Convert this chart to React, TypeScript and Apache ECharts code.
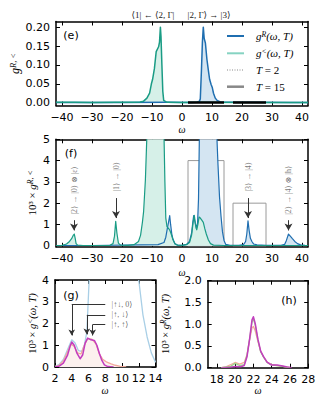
import React, { useEffect, useRef } from "react";
import * as echarts from "echarts";

type P = [number, number];

// ---------- tick values ----------
const eTicksX = [-40, -30, -20, -10, 0, 10, 20, 30, 40];
const eTicksY = [0, 0.05, 0.1, 0.15, 0.2];
const fTicksY = [0, 1, 2, 3, 4, 5];
const gTicksX = [2, 4, 6, 8, 10, 12, 14];
const gTicksY = [0, 1, 2, 3, 4];
const hTicksX = [18, 20, 22, 24, 26, 28];
const hTicksY = [0, 0.5, 1, 1.5, 2];

// ---------- panel (e) ----------
const eLesser: P[] = [
  [-42, 0.0008], [-36, 0.001], [-30, 0.0006], [-22, 0.0012], [-16, 0.001], [-14, 0.002],
  [-12.8, 0.004], [-11.7, 0.012], [-10.8, 0.025], [-10.2, 0.05], [-9.8, 0.062], [-9.2, 0.09],
  [-8.6, 0.135], [-7.8, 0.148], [-7.5, 0.16], [-7.2, 0.2], [-7.0, 0.175], [-6.7, 0.1],
  [-6.4, 0.03], [-6.1, 0.006], [-5, 0.001], [0, 0.0005], [6, 0.001], [20, 0.0005], [42, 0.0004],
];
const eRetarded: P[] = [
  [-42, 0.0003], [-20, 0.0004], [-5, 0.0008], [3, 0.0006], [5, 0.001], [5.8, 0.004],
  [6.1, 0.01], [6.5, 0.09], [6.8, 0.16], [7.1, 0.2], [7.4, 0.17], [7.8, 0.158], [8.3, 0.115],
  [8.8, 0.085], [9.2, 0.062], [9.7, 0.048], [10.1, 0.04], [10.5, 0.025], [11.1, 0.012],
  [11.7, 0.006], [12.8, 0.002], [15, 0.0008], [22, 0.001], [36, 0.0005], [42, 0.0003],
];
const eWindows: P[] = [[2, 14], [17, 28]];

// ---------- panel (f) (x 10^3) ----------
const fLesser: P[] = [
  [-42, 0.01], [-40, 0.02], [-38.5, 0.08], [-37.5, 0.2], [-36.8, 0.33], [-36.2, 0.5],
  [-35.9, 0.55], [-35.6, 0.35], [-35.3, 0.1], [-34.8, 0.03], [-33, 0.01], [-28, 0.01],
  [-24, 0.02], [-23, 0.1], [-22.5, 0.45], [-22.1, 1.15], [-21.7, 0.6], [-21.2, 0.12],
  [-20.5, 0.03], [-18, 0.02], [-16, 0.05], [-14.5, 0.2], [-13.8, 0.5], [-13.2, 1.1],
  [-12.8, 1.6], [-12.2, 3.1], [-11.7, 5.5], [-11, 12], [-10, 50], [-8, 140], [-7.2, 200],
  [-6.4, 30], [-6, 8], [-5.7, 3], [-5.4, 1.3], [-5, 0.9], [-4.5, 0.82], [-4.1, 0.74],
  [-3.6, 0.55], [-3, 0.28], [-2.3, 0.08], [-1.5, 0.03], [0, 0.02], [1.5, 0.05], [2.5, 0.15],
  [3.2, 0.5], [3.7, 1.1], [4.1, 1.43], [4.5, 1.0], [4.9, 0.75], [5.3, 1.0], [5.7, 1.35],
  [6.1, 1.3], [6.6, 1.2], [7.1, 1.1], [7.6, 0.8], [8.1, 0.55], [8.8, 0.27], [9.5, 0.1],
  [10.5, 0.03], [14, 0.01], [20, 0.01], [30, 0.01], [42, 0.01],
];
const fRetarded: P[] = [
  [-42, 0.01], [-30, 0.01], [-8, 0.05], [-6, 0.15], [-5.4, 0.4], [-4.9, 0.8], [-4.5, 1.1],
  [-4.1, 1.42], [-3.8, 1.0], [-3.4, 0.55], [-3, 0.3], [-2.4, 0.1], [-1.5, 0.03], [0, 0.02],
  [1.5, 0.06], [2.5, 0.2], [3.2, 0.6], [3.6, 1.1], [3.9, 1.42], [4.3, 1.15], [4.8, 0.8],
  [5.2, 1.1], [5.5, 2.2], [5.8, 5.5], [6.2, 30], [7.1, 200], [8, 150], [10, 40], [11, 15],
  [11.6, 6], [12, 3.8], [12.5, 2.3], [13, 1.4], [13.5, 0.65], [14, 0.25], [14.6, 0.06],
  [16, 0.02], [19, 0.02], [20.5, 0.05], [21.2, 0.2], [21.6, 0.55], [22, 1.17], [22.4, 0.7],
  [22.8, 0.35], [23.3, 0.2], [23.9, 0.08], [25, 0.04], [28, 0.02], [33, 0.02], [34.2, 0.06],
  [34.8, 0.25], [35.5, 0.55], [36.1, 0.45], [36.8, 0.33], [37.6, 0.2], [38.5, 0.1],
  [39.5, 0.04], [41, 0.02], [42, 0.01],
];
const fBoxX: P[] = [[2, 14], [17, 28]];
const fBoxTop = [4, 2];
const fPeakLabels = ["|2⟩ → |0⟩ ⊗ |ε⟩", "|1⟩ → |0⟩", "|3⟩ → |4⟩", "|2⟩ → |4⟩ ⊗ |h⟩"];
const fPeakX = [-36, -22, 22, 35.5];

// ---------- panel (g) (x 10^3) ----------
const gRetarded: P[] = [
  [2, 0.03], [2.5, 0.12], [3, 0.35], [3.5, 0.8], [4, 1.25], [4.4, 1.1], [4.8, 0.75],
  [5.2, 0.72], [5.5, 1.0], [5.8, 1.6], [6.1, 4.2], [6.5, 10], [7, 30], [11, 15], [11.6, 5.5],
  [12, 4.0], [12.5, 2.4], [13, 1.38], [13.5, 0.65], [14, 0.22],
];
const gLesserA: P[] = [
  [2, 0.0], [2.5, 0.04], [3, 0.18], [3.5, 0.55], [3.8, 0.95], [4, 1.15], [4.3, 1.0],
  [4.6, 0.65], [5, 0.38], [5.3, 0.55], [5.6, 1.1], [5.9, 1.33], [6.3, 1.25], [6.7, 1.22],
  [7, 1.0], [7.3, 0.62], [7.6, 0.3], [7.9, 0.1], [8.3, 0.02], [9, 0],
];
const gLesserB: P[] = [
  [2, 0.02], [2.5, 0.08], [3, 0.28], [3.5, 0.7], [3.9, 1.05], [4.3, 0.95], [4.7, 0.65],
  [5.1, 0.6], [5.5, 1.0], [5.9, 1.3], [6.4, 1.28], [6.9, 1.05], [7.3, 0.6], [7.7, 0.35],
  [8.2, 0.22], [8.7, 0.14], [9.2, 0.08], [9.8, 0.03], [10.5, 0.0],
];
const gStateLabels = ["|↑↓, 0⟩", "|↑, ↓⟩", "|↑, ↑⟩"];
const gStateX = [4.0, 5.8, 6.5];

// ---------- panel (h) (x 10^3) ----------
const hRetardedA: P[] = [
  [18.5, 0], [19.5, 0.01], [20, 0.03], [20.6, 0.02], [21, 0.05], [21.3, 0.25], [21.6, 0.68],
  [21.85, 1.1], [22, 1.17], [22.2, 1.02], [22.5, 0.65], [22.8, 0.38], [23.1, 0.26],
  [23.5, 0.13], [24, 0.06], [24.6, 0.06], [25.2, 0.04], [25.7, 0.015], [26.2, 0],
];
const hRetardedB: P[] = [
  [18.5, 0], [19.5, 0.03], [20, 0.1], [20.5, 0.05], [21, 0.07], [21.3, 0.28], [21.6, 0.68],
  [21.85, 1.05], [22, 1.12], [22.2, 0.98], [22.5, 0.63], [22.8, 0.36], [23.1, 0.25],
  [23.5, 0.12], [24, 0.06], [24.6, 0.05], [25.2, 0.03], [26, 0],
];
const hRetardedC: P[] = [
  [18.5, 0], [19, 0.02], [19.6, 0.08], [20, 0.12], [20.5, 0.08], [21, 0.12], [21.3, 0.3],
  [21.6, 0.65], [21.85, 0.92], [22, 0.95], [22.2, 0.85], [22.5, 0.6], [22.8, 0.38],
  [23.1, 0.25], [23.5, 0.13], [24, 0.07], [24.6, 0.05], [25.2, 0.03], [26, 0],
];

// ---------- styling ----------
const SANS = "'DejaVu Sans', sans-serif";
const SERIF = "'Liberation Serif', 'DejaVu Serif', serif";
const BLUE = "#1f6eb0";
const TEAL = "#1a9c85";
const BLUE_FILL = "#d4e5f2";
const TEAL_FILL = "#d6f0e8";
const MAGENTA = "#c23dbf";
const PINK = "#f3aa9c";
const PINK_FILL = "#fcf1ee";
const LBLUE = "#a9cfe6";
const LGREEN = "#9bd38b";

const minus = (v: number) => (v < 0 ? "\u2212" + Math.abs(v) : String(v));

const lineStyleAxis = { color: "#000", width: 1.5 };

function xPair(grid: number, min: number, max: number, ticks: number[], fmt: (v: number) => string) {
  const base = {
    type: "value" as const,
    gridIndex: grid,
    min,
    max,
    splitLine: { show: false },
    axisLine: { show: true, onZero: false, lineStyle: lineStyleAxis },
    axisTick: { show: true, inside: true, length: 4, customValues: ticks, lineStyle: { color: "#000", width: 1 } },
  };
  return [
    {
      ...base,
      position: "bottom",
      axisLabel: { show: true, customValues: ticks, formatter: fmt, color: "#000", fontSize: 11, fontFamily: SANS, margin: 6 },
    },
    { ...base, position: "top", axisLabel: { show: false } },
  ];
}
function yPair(grid: number, min: number, max: number, ticks: number[], fmt: (v: number) => string) {
  const base = {
    type: "value" as const,
    gridIndex: grid,
    min,
    max,
    splitLine: { show: false },
    axisLine: { show: true, onZero: false, lineStyle: lineStyleAxis },
    axisTick: { show: true, inside: true, length: 4, customValues: ticks, lineStyle: { color: "#000", width: 1 } },
  };
  return [
    {
      ...base,
      position: "left",
      axisLabel: { show: true, customValues: ticks, formatter: fmt, color: "#000", fontSize: 11, fontFamily: SANS, margin: 6 },
    },
    { ...base, position: "right", axisLabel: { show: false } },
  ];
}

// curve outline drawn as an open polyline through the axes' own coordinate mapping
function line(data: P[], grid: number, color: string, width: number, z = 2, yTop = Infinity) {
  return {
    type: "custom",
    xAxisIndex: grid * 2,
    yAxisIndex: grid * 2,
    data: [data[0]],
    clip: true,
    z,
    silent: true,
    renderItem: (_params: any, api: any) => {
      const pts = data.map(([x, y]) => api.coord([x, Math.min(y, yTop)]));
      return {
        type: "polyline",
        shape: { points: pts },
        style: { fill: "none", stroke: color, lineWidth: width, lineJoin: "round" },
        silent: true,
      };
    },
  } as any;
}
// fill under a curve, drawn as one polygon through the axes' own coordinate mapping
function area(data: P[], grid: number, fill: string, yTop: number) {
  return {
    type: "custom",
    xAxisIndex: grid * 2,
    yAxisIndex: grid * 2,
    data: [data[0]],
    clip: true,
    z: 1,
    silent: true,
    renderItem: (_params: any, api: any) => {
      const pts = data.map(([x, y]) => api.coord([x, Math.min(y, yTop)]));
      const a = api.coord([data[0][0], 0]);
      const b = api.coord([data[data.length - 1][0], 0]);
      return {
        type: "polygon",
        shape: { points: [a, ...pts, b] },
        style: { fill, stroke: "none", lineWidth: 0 },
        silent: true,
      };
    },
  } as any;
}

const richMath = (size: number) => ({
  n: { fontFamily: SERIF, fontSize: size, lineHeight: size, color: "#000" },
  i: { fontFamily: SERIF, fontStyle: "italic", fontSize: size, lineHeight: size, color: "#000" },
  s: { fontFamily: SERIF, fontStyle: "italic", fontSize: size * 0.7, lineHeight: size * 0.6, verticalAlign: "top", color: "#000" },
});

function mathText(x: number, y: number, text: string, size: number, rotate = false, align = "center") {
  return {
    type: "text",
    x,
    y,
    rotation: rotate ? Math.PI / 2 : 0,
    silent: true,
    style: {
      text,
      rich: richMath(size),
      fontSize: size,
      fontFamily: SERIF,
      align,
      textAlign: align,
      verticalAlign: "middle",
      textVerticalAlign: "middle",
      fill: "#000",
    },
  };
}
function plainText(x: number, y: number, text: string, size: number, font: string, color = "#000", align = "center", italic = false) {
  return {
    type: "text",
    x,
    y,
    silent: true,
    style: {
      text, fontSize: size, fontFamily: font, fill: color, align, textAlign: align,
      verticalAlign: "middle", textVerticalAlign: "middle", lineHeight: size,
      fontStyle: italic ? "italic" : "normal",
    },
  };
}

export default function App() {
  const ref = useRef<HTMLDivElement>(null);
  useEffect(() => {
    document.body.style.margin = "0";
    if (!ref.current) return;
    const chart = echarts.init(ref.current, undefined, { renderer: "svg" });

    const fArrowTop = [1.2, 2.24, 2.24, 1.2];
    const fArrowTip = [0.72, 1.3, 1.3, 0.72];
    const fLabelY = [2.6, 3.24, 3.24, 2.6];
    const gLineY = [2.88, 2.4, 1.95];
    const gTipY = [1.45, 1.5, 1.45];
    const gLabelX = 8.7;
    const gLineX0 = 8.0;

    const option: any = {
      animation: false,
      backgroundColor: "#fff",
      grid: [
        { left: 56, top: 21.5, width: 252, height: 84 },
        { left: 56, top: 139.3, width: 252, height: 107.5 },
        { left: 55, top: 280, width: 100.5, height: 87 },
        { left: 207.7, top: 280.7, width: 100.5, height: 87 },
      ],
      xAxis: [
        ...xPair(0, -42, 42, eTicksX, minus),
        ...xPair(1, -42, 42, eTicksX, minus),
        ...xPair(2, 2, 14, gTicksX, (v) => String(v)),
        ...xPair(3, 17, 28, hTicksX, (v) => String(v)),
      ],
      yAxis: [
        ...yPair(0, -0.0075, 0.215, eTicksY, (v) => v.toFixed(2)),
        ...yPair(1, -0.05, 5, fTicksY, (v) => String(v)),
        ...yPair(2, 0, 4, gTicksY, (v) => String(v)),
        ...yPair(3, 0, 2, hTicksY, (v) => v.toFixed(1)),
      ],
      series: [
        // (e)
        area(eRetarded, 0, BLUE_FILL, 0.215),
        area(eLesser, 0, TEAL_FILL, 0.215),
        line(eRetarded, 0, BLUE, 1.5, 2),
        line(eLesser, 0, TEAL, 1.5, 3),
        {
          type: "line",
          xAxisIndex: 0,
          yAxisIndex: 0,
          data: [],
          silent: true,
          z: 6,
          markLine: {
            silent: true,
            symbol: ["none", "none"],
            label: { show: false },
            lineStyle: { color: "#000", width: 2.5, type: "solid" },
            data: eWindows.map((w) => [{ coord: [w[0], 0] }, { coord: [w[1], 0] }]),
          },
        },
        // (f)
        area(fRetarded, 1, BLUE_FILL, 5.2),
        area(fLesser, 1, TEAL_FILL, 5.2),
        line(fRetarded, 1, BLUE, 1.2, 2, 5.2),
        line(fLesser, 1, TEAL, 1.2, 3, 5.2),
        {
          type: "line",
          xAxisIndex: 2,
          yAxisIndex: 2,
          data: [],
          silent: true,
          z: 6,
          markArea: {
            silent: true,
            itemStyle: { color: "rgba(0,0,0,0)", borderColor: "#9a9a9a", borderWidth: 1 },
            label: { show: false },
            data: fBoxX.map((b, k) => [{ coord: [b[0], 0] }, { coord: [b[1], fBoxTop[k]] }]),
          },
          markLine: {
            silent: true,
            symbol: ["none", "arrow"],
            symbolSize: [6, 7],
            label: { show: false },
            lineStyle: { color: "#333", width: 1, type: "solid" },
            data: fPeakX.map((x, k) => [{ coord: [x, fArrowTop[k]] }, { coord: [x, fArrowTip[k]] }]),
          },
        },
        {
          type: "scatter",
          xAxisIndex: 2,
          yAxisIndex: 2,
          symbolSize: 1,
          itemStyle: { color: "rgba(0,0,0,0)" },
          silent: true,
          z: 7,
          data: fPeakX.map((x, k) => ({ value: [x, fLabelY[k]], name: fPeakLabels[k] })),
          label: { show: true, position: "inside", rotate: 90, formatter: "{b}", fontSize: 8, fontFamily: SERIF, color: "#555" },
        },
        // (g)
        area(gLesserB, 2, PINK_FILL, 4.2),
        line(gRetarded, 2, LBLUE, 1.3, 2, 4.2),
        line(gLesserB, 2, PINK, 1.3, 3, 4.2),
        line(gLesserA, 2, MAGENTA, 1.5, 4, 4.2),
        {
          type: "line",
          xAxisIndex: 4,
          yAxisIndex: 4,
          data: [],
          silent: true,
          z: 6,
          markLine: {
            silent: true,
            symbol: ["none", "arrow"],
            symbolSize: [5, 6],
            label: { show: false },
            lineStyle: { color: "#333", width: 1, type: "solid" },
            data: gStateX.map((x, k) => [{ coord: [x, gLineY[k]] }, { coord: [x, gTipY[k]] }]),
          },
        },
        {
          type: "line",
          xAxisIndex: 4,
          yAxisIndex: 4,
          data: [],
          silent: true,
          z: 6,
          markLine: {
            silent: true,
            symbol: ["none", "none"],
            label: { show: false },
            lineStyle: { color: "#333", width: 1, type: "solid" },
            data: gStateX.map((x, k) => [{ coord: [gLineX0, gLineY[k]] }, { coord: [x, gLineY[k]] }]),
          },
        },
        {
          type: "scatter",
          xAxisIndex: 4,
          yAxisIndex: 4,
          symbolSize: 1,
          itemStyle: { color: "rgba(0,0,0,0)" },
          silent: true,
          z: 7,
          data: gStateLabels.map((t, k) => ({ value: [gLabelX, gLineY[k]], name: t })),
          label: { show: true, position: "right", distance: 0, formatter: "{b}", fontSize: 8, fontFamily: SERIF, color: "#444" },
        },
        // (h)
        line(hRetardedC, 3, PINK, 1.3, 2),
        line(hRetardedB, 3, LGREEN, 1.3, 3),
        line(hRetardedA, 3, MAGENTA, 1.5, 4),
      ],
      graphic: [
        // top annotations
        plainText(153, 15, "⟨1| ← ⟨2, Γ|", 9, SERIF, "#222"),
        plainText(209, 15, "|2, Γ⟩ → |3⟩", 9, SERIF, "#222"),
        // panel letters
        plainText(71, 35, "(e)", 11, SANS),
        plainText(71, 153.5, "(f)", 11, SANS),
        plainText(71, 295, "(g)", 11, SANS),
        plainText(289, 300, "(h)", 11, SANS),
        // legend
        { type: "line", silent: true, shape: { x1: 227, y1: 36, x2: 244, y2: 36 }, style: { stroke: BLUE, lineWidth: 2 } },
        mathText(256, 36, "{i|g}{s|R}{i|(ω, T)}", 11, false, "left"),
        { type: "line", silent: true, shape: { x1: 227, y1: 53.3, x2: 244, y2: 53.3 }, style: { stroke: "#86d3c2", lineWidth: 2 } },
        mathText(256, 53.3, "{i|g}{s|<}{i|(ω, T)}", 11, false, "left"),
        { type: "line", silent: true, shape: { x1: 227, y1: 70, x2: 244, y2: 70 }, style: { stroke: "#888", lineWidth: 1, lineDash: [1, 1.5] } },
        mathText(256, 70, "{i|T}{n| = 2}", 11, false, "left"),
        { type: "line", silent: true, shape: { x1: 227, y1: 86.7, x2: 244, y2: 86.7 }, style: { stroke: "#888", lineWidth: 2.5 } },
        mathText(256, 86.7, "{i|T}{n| = 15}", 11, false, "left"),
        // axis titles
        mathText(15, 63.5, "{i|g}{s|R, <}", 12, true),
        plainText(182, 129.5, "ω", 10, SERIF, "#000", "center", true),
        mathText(32, 193, "{n|10³ × }{i|g}{s|R, <}", 11, true),
        plainText(182, 272, "ω", 10, SERIF, "#000", "center", true),
        mathText(32, 323.5, "{n|10³ × }{i|g}{s|<}{i|(ω, T)}", 10.5, true),
        plainText(105, 390, "ω", 10, SERIF, "#000", "center", true),
        mathText(165, 324, "{n|10³ × }{i|g}{s|R}{i|(ω, T)}", 10.5, true),
        plainText(258, 390, "ω", 10, SERIF, "#000", "center", true),
      ],
    };
    chart.setOption(option);
    return () => chart.dispose();
  }, []);
  return <div ref={ref} style={{ width: 325, height: 400 }} />;
}
